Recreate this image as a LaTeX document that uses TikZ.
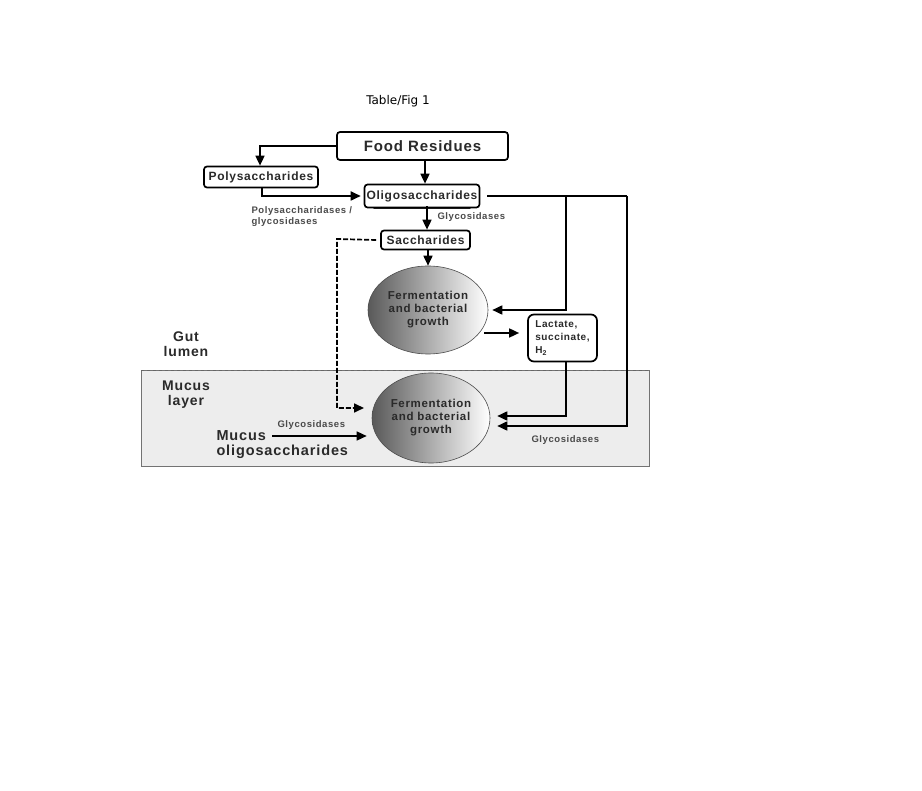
\documentclass[tikz,border=0pt]{standalone}
\usepackage{fontspec}
\setmainfont{Liberation Sans}[LetterSpace=6]
\newfontfamily\capfont{DejaVu Sans}
\usetikzlibrary{arrows.meta,shadings,shapes.geometric}
\definecolor{txt}{HTML}{2A2A2A}
\definecolor{lbl}{HTML}{4A4A4A}
\definecolor{mucus}{HTML}{EDEDED}
\tikzset{
  box/.style={draw=black, line width=1.7pt, rounded corners=3pt, fill=white, text=txt, font=\bfseries\fontsize{12}{13}\selectfont, inner xsep=2pt, inner ysep=0pt},
  conn/.style={line width=1.7pt, -{Triangle[length=10pt,width=9pt]}},
  plainline/.style={line width=1.7pt},
  ferm/.style={ellipse, draw=black!70, line width=0.6pt, left color=black!65, right color=white, shading angle=90, text=txt, font=\bfseries\fontsize{11.5}{13}\selectfont, align=center, inner sep=0pt},
  small/.style={text=lbl, font=\bfseries\fontsize{9.5}{11}\selectfont, align=left},
  zone/.style={text=txt, font=\bfseries\fontsize{14}{15}\selectfont, align=center},
}
\begin{document}
\begin{tikzpicture}[x=1pt,y=-1pt]
\useasboundingbox (0,0) rectangle (922,791);
% mucus layer
\path[fill=mucus, draw=black!55, line width=0.8pt] (141,370) rectangle (649,466);
\draw[black!60, line width=0.6pt, dashed] (141,370) -- (649,370);
\node[font=\capfont\fontsize{12}{14}\selectfont] (title) at (398,101) {Table/Fig 1};
% boxes
\node[box, font=\bfseries\fontsize{15}{16}\selectfont, minimum width=171pt, minimum height=28pt] (food) at (422.5,146) {Food Residues};
\node[box, minimum width=114pt, minimum height=21pt] (poly) at (261,177) {Polysaccharides};
\draw[line width=2.6pt, black!85, line cap=round] (374,207.6) -- (470,207.6);
\node[box, minimum width=112pt, minimum height=23pt] (oligo) at (422,196) {Oligosaccharides};
\node[box, minimum width=89pt, minimum height=19pt] (sacch) at (425.5,240) {Saccharides};
\node[box, font=\bfseries\fontsize{10}{13}\selectfont, align=left, minimum width=69pt, minimum height=47pt, rounded corners=6pt, inner xsep=4pt] (lact) at (562.5,338) {Lactate,\\succinate,\\H\textsubscript{2}};
% fermentation
\node[ferm, minimum width=120pt, minimum height=88pt] (f1) at (428,310) {Fermentation\\and bacterial\\growth};
\node[ferm, minimum width=118pt, minimum height=90pt] (f2) at (431,418) {Fermentation\\and bacterial\\growth};
% labels
\node[zone] (gut) at (186,344) {Gut\\lumen};
\node[zone] (mucl) at (186,395) {Mucus\\layer};
\node[zone, font=\bfseries\fontsize{14.5}{16}\selectfont, anchor=west] (mucus) at (213,436) {Mucus};
\node[zone, font=\bfseries\fontsize{14.5}{16}\selectfont, anchor=west] (mucol) at (213,452) {oligosaccharides};
\node[small, anchor=west] (pglab) at (248,217) {Polysaccharidases /\\glycosidases};
\node[small, anchor=west] (g1) at (434,217) {Glycosidases};
\node[small, anchor=west] (g2) at (274,425) {Glycosidases};
\node[small, anchor=west] (g3) at (528,440) {Glycosidases};
% connectors
\coordinate (c1) at (260,146);
\draw[conn] (food.west) -- (c1) -- (poly.north -| c1);
\coordinate (v1) at (425,0);
\draw[conn] (food.south -| v1) -- (oligo.north -| v1);
\coordinate (c2) at (262,196);
\draw[conn] (poly.south -| c2) -- (c2) -- ([xshift=-3pt]oligo.west);
\coordinate (v2) at (427,0);
\draw[conn] ([yshift=2pt]oligo.south -| v2) -- (sacch.north -| v2);
\coordinate (v3) at (428,0);
\draw[conn] (sacch.south -| v3) -- (f1.north -| v3);
\coordinate (c3) at (566,196);
\coordinate (c4) at (566,310);
\coordinate (c5) at (627,196);
\coordinate (c6) at (627,426);
\draw[plainline] ([xshift=7pt]oligo.east) -- (c5);
\draw[conn] (c3) -- (c4) -- ([xshift=4pt]f1.east |- c4);
\draw[conn] (c5) -- (c6) -- ([xshift=7pt]f2.east |- c6);
\coordinate (c7) at (566,416);
\draw[conn] (lact.south -| c7) -- (c7) -- ([xshift=7pt]f2.east |- c7);
\coordinate (c8) at (484,333);
\draw[conn] (c8) -- ([xshift=-8pt]lact.west |- c8);
\coordinate (c9) at (337,239);
\coordinate (c10) at (337,408);
\draw[conn, dash pattern=on 5pt off 2pt] ([xshift=-4pt]sacch.west) -- (c9) -- (c10) -- (364,408);
\coordinate (c11) at (272,436);
\draw[conn, line width=1.4pt] (c11) -- ([xshift=-5pt]f2.west |- c11);
\end{tikzpicture}
\end{document}
